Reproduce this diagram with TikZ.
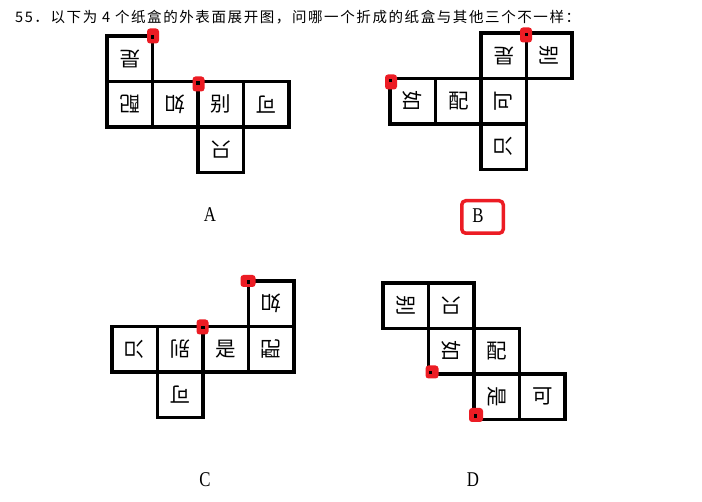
\documentclass[tikz,border=0pt]{standalone}
\usepackage{fontspec}
\newfontfamily\cjk{Noto Sans CJK SC}
\newfontfamily\cjktitle[LetterSpace=11]{Noto Sans CJK SC}
\newfontfamily\lblfont[FakeStretch=0.8]{Liberation Serif}
\usepackage{xcolor}
\usepackage{tikz}
\usetikzlibrary{positioning, calc}
\definecolor{hintred}{RGB}{236,28,36}

\begin{document}
\begin{tikzpicture}[
    x=1pt, y=-1pt,
    face/.style={rectangle, draw, line width=3.1pt, minimum size=45.5pt, inner sep=0pt, outer sep=0pt, font=\cjk\fontsize{20.5}{20.5}\selectfont},
    hint/.style={rectangle, fill=hintred, rounded corners=3pt, minimum width=12pt, minimum height=15pt, inner sep=0pt},
    dot/.style={rectangle, fill=black, minimum size=3.5pt, inner sep=0pt},
    lbl/.style={font=\lblfont\fontsize{21}{21}\selectfont, inner sep=0pt},
    answer/.style={rectangle, draw=hintred, line width=3.5pt, rounded corners=4pt, minimum width=41.5pt, minimum height=32.5pt}
]
\fill[white] (0,0) rectangle (702,502);

% question
\node[anchor=base west, inner sep=0pt, font=\cjktitle\fontsize{14.5}{16}\selectfont] (title) at (15,23) {55．以下为 4 个纸盒的外表面展开图，问哪一个折成的纸盒与其他三个不一样：};

% Net A
\begin{scope}[shift={(107,36)}, x=45.5pt, y=-45.5pt]
\node[face, rotate=180] (a1) at (0.5,0.5) {是};
\node[face, rotate=180] (a2) at (0.5,1.5) {配};
\node[face, rotate=180] (a3) at (1.5,1.5) {如};
\node[face] (a4) at (2.5,1.5) {别};
\node[face, rotate=180] (a5) at (3.5,1.5) {可};
\node[face, rotate=180] (a6) at (2.5,2.5) {只};
\end{scope}
\node[lbl] (labA) at (210,215) {A};

% Net B
\begin{scope}[shift={(390,33)}, x=45.5pt, y=-45.5pt]
\node[face, rotate=180] (b1) at (2.5,0.5) {是};
\node[face, rotate=-90] (b2) at (3.5,0.5) {别};
\node[face, rotate=-90] (b3) at (0.5,1.5) {如};
\node[face] (b4) at (1.5,1.5) {配};
\node[face, rotate=90] (b5) at (2.5,1.5) {可};
\node[face, rotate=90] (b6) at (2.5,2.5) {只};
\end{scope}
\node[answer] (ansB) at (482.5,217) {};
\node[lbl] (labB) at (478,216) {B};

% Net C
\begin{scope}[shift={(112,281)}, x=45.5pt, y=-45.5pt]
\node[face, rotate=180] (c1) at (3.5,0.5) {如};
\node[face, rotate=90] (c2) at (0.5,1.5) {只};
\node[face, rotate=180] (c3) at (1.5,1.5) {别};
\node[face] (c4) at (2.5,1.5) {是};
\node[face, rotate=90] (c5) at (3.5,1.5) {配};
\node[face, rotate=180] (c6) at (1.5,2.5) {可};
\end{scope}
\node[lbl] (labC) at (205,480) {C};

% Net D
\begin{scope}[shift={(383,283)}, x=45.5pt, y=-45.5pt]
\node[face, rotate=-90] (d1) at (0.5,0.5) {别};
\node[face, rotate=180] (d2) at (1.5,0.5) {只};
\node[face, rotate=-90] (d3) at (1.5,1.5) {如};
\node[face] (d4) at (2.5,1.5) {配};
\node[face, rotate=-90] (d5) at (2.5,2.5) {是};
\node[face] (d6) at (3.5,2.5) {可};
\end{scope}
\node[lbl] (labD) at (473,480) {D};

% corner marks
\node[hint] (hA1) at (153,36) {};
\node[dot] (kA1) at (152.5,37) {};
\node[hint] (hA2) at (198.5,84) {};
\node[dot] (kA2) at (198,83) {};
\node[hint] (hB1) at (526,35) {};
\node[dot] (kB1) at (526.5,34.5) {};
\node[hint] (hB2) at (391,82) {};
\node[dot] (kB2) at (390.5,80.5) {};
\node[hint, minimum width=15pt, minimum height=12pt] (hC1) at (248,281) {};
\node[dot] (kC1) at (248.5,282) {};
\node[hint] (hC2) at (202.5,327) {};
\node[dot] (kC2) at (203,327.5) {};
\node[hint, minimum width=13pt, minimum height=13pt] (hD1) at (432,372) {};
\node[dot] (kD1) at (430.5,372.5) {};
\node[hint, minimum width=14pt, minimum height=14pt] (hD2) at (476,415) {};
\node[dot] (kD2) at (475.5,416) {};

\end{tikzpicture}
\end{document}
